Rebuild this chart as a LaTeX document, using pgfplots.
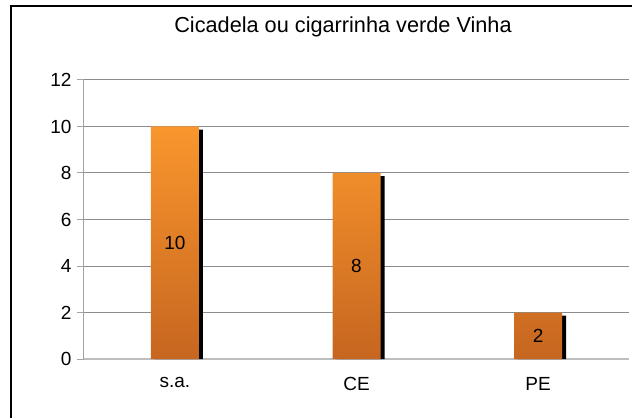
\documentclass[border=0pt]{standalone}
\usepackage{fontspec}
\setmainfont{Liberation Sans}
\usepackage{pgfplots}
\pgfplotsset{compat=1.18}
\definecolor{otop}{RGB}{250,150,45}
\definecolor{obot}{RGB}{198,102,32}
\definecolor{gridc}{RGB}{140,140,140}
\definecolor{yaxc}{RGB}{165,165,165}
\definecolor{xaxc}{RGB}{190,190,190}
\begin{document}
\begin{tikzpicture}[x=1pt,y=1pt]
\useasboundingbox (0,0) rectangle (632,418);
\draw[line width=1.3pt] (11,0) -- (11,412) -- (632,412);
\node[font=\fontsize{21.7}{26}\selectfont] at (343,391) {Cicadela ou cigarrinha verde Vinha};
\begin{axis}[
  at={(84pt,59pt)}, anchor=south west,
  scale only axis, width=545pt, height=279pt,
  ybar,
  xmin=-0.5, xmax=2.5, ymin=0, ymax=12,
  ytick={0,2,...,12},
  xtick={0,1,2}, xticklabels={s.a., CE, PE},
  ymajorgrids, major grid style={draw=gridc, line width=1pt},
  axis x line*=bottom, axis y line*=left,
  x axis line style={draw=xaxc, line width=2pt},
  y axis line style={draw=yaxc, line width=1pt},
  xtick style={draw=none},
  ytick style={draw=yaxc, line width=1pt},
  tick align=outside, major tick length=7pt,
  tick label style={font=\fontsize{19}{22}\selectfont},
  yticklabel style={xshift=-2pt},
  /pgf/number format/assume math mode=true,
  xticklabel style={yshift=-8pt},
  clip=false,
]
\addplot[fill=black, draw=none, bar width=48pt, bar shift=4pt]
  coordinates {(0,9.87) (1,7.87) (2,1.87)};
\addplot[draw=none, top color=otop, bottom color=obot, bar width=48pt, bar shift=0pt,
  nodes near coords,
  visualization depends on=rawy \as \rawy,
  every node near coord/.append style={anchor=center, yshift=-\rawy*11.625pt,
    font=\fontsize{19}{22}\selectfont, text=black}]
  coordinates {(0,10) (1,8) (2,2)};
\end{axis}
\end{tikzpicture}
\end{document}
